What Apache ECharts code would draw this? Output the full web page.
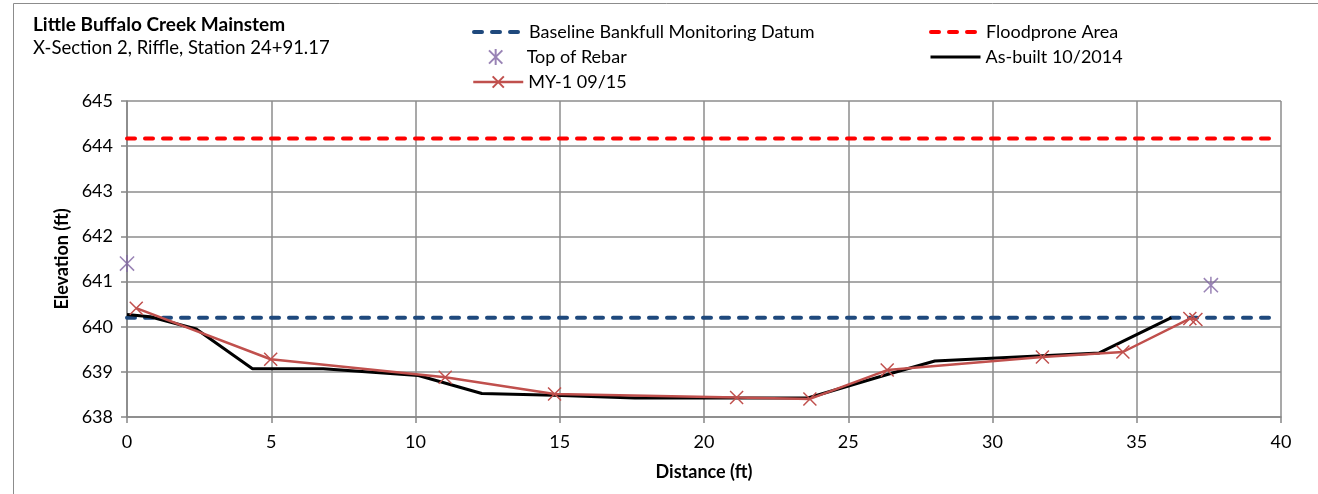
<!DOCTYPE html>
<html>
<head>
<meta charset="utf-8">
<script src="https://cdn.jsdelivr.net/npm/echarts@6/dist/echarts.min.js"></script>
<style>
  html, body { margin: 0; padding: 0; background: #fff; }
  #chart { width: 1318px; height: 494px; }
</style>
</head>
<body>
<div id="chart"></div>
<script>
// Cross-section survey, Little Buffalo Creek, X-Section 2
const xTicks = { min: 0, max: 40, interval: 5 };
const yTicks = { min: 638, max: 645, interval: 1 };

// Reference elevations (ft), drawn across the section
const datumSpan = [0, 39.7];
const bankfullElev = 640.2;
const floodproneElev = 644.17;

// Top of rebar pins
const rebarDist = [0, 37.57];
const rebarElev = [641.4, 640.92];

// As-built survey 10/2014
const asBuiltDist = [0, 0.8, 2.4, 4.35, 6.8, 10.1, 11.2, 12.3, 14.8, 17.6, 21.0, 23.6, 26.5, 28.0, 33.7, 36.2];
const asBuiltElev = [640.27, 640.22, 639.95, 639.07, 639.07, 638.92, 638.72, 638.52, 638.48, 638.42, 638.42, 638.42, 638.97, 639.24, 639.42, 640.2];

// Monitoring year 1 survey 09/15
const my1Dist = [0.32, 4.98, 11.03, 14.82, 21.13, 23.67, 26.35, 31.73, 34.52, 36.84, 37.05];
const my1Elev = [640.41, 639.28, 638.88, 638.51, 638.43, 638.4, 639.04, 639.33, 639.44, 640.18, 640.16];

const pair = (xs, ys) => xs.map((x, i) => [x, ys[i]]);
const flat = (span, y) => span.map(x => [x, y]);

const FONT = 'Lato';
const FS = 18;
const crossSym = 'path://M0,0L10,10M10,0L0,10';
const starSym = 'path://M0,0L10,10M10,0L0,10M5,-1L5,11';

const DASH = [8, 10];
const bankfullLine = { color: '#1F497D', width: 4, type: DASH, cap: 'round' };
const floodLine = { color: '#FF0000', width: 4, type: DASH, cap: 'round' };
const asBuiltLine = { color: '#000', width: 3 };
const my1Line = { color: '#C0504D', width: 2.5 };

const chart = echarts.init(document.getElementById('chart'), null, { renderer: 'canvas' });

const legendBase = {
  orient: 'horizontal',
  itemWidth: 50,
  itemHeight: 14,
  textStyle: { fontFamily: FONT, fontSize: FS, color: '#000' },
  selectedMode: false,
  padding: 0
};
// line-only legend entries: hide the default marker dot
const lineOnly = (name, ls) => ({
  name,
  itemStyle: { color: 'rgba(0,0,0,0)', borderWidth: 0, opacity: 0 },
  lineStyle: ls
});

chart.setOption({
  animation: false,
  backgroundColor: '#fff',
  graphic: [{
    type: 'rect',
    shape: { x: 13.5, y: 3.5, width: 1320, height: 500 },
    style: { fill: 'none', stroke: '#8c8c8c', lineWidth: 1 },
    silent: true
  }],
  title: [
    { text: 'Little Buffalo Creek Mainstem', left: 33, top: 15,
      textStyle: { fontFamily: FONT, fontSize: 19, fontWeight: 'bold', color: '#000' }, padding: 0 },
    { text: 'X-Section 2, Riffle, Station 24+91.17', left: 33, top: 39,
      textStyle: { fontFamily: FONT, fontSize: 18.5, fontWeight: 'normal', color: '#000' }, padding: 0 }
  ],
  legend: [
    Object.assign({}, legendBase, { left: 472, top: 23, data: [lineOnly('Baseline Bankfull Monitoring Datum', bankfullLine)] }),
    Object.assign({}, legendBase, { left: 929, top: 23, data: [lineOnly('Floodprone Area', floodLine)] }),
    Object.assign({}, legendBase, {
      left: 488, top: 48, itemWidth: 16, itemHeight: 16, data: ['Top of Rebar'],
      textStyle: { fontFamily: FONT, fontSize: FS, color: '#000', padding: [0, 0, 0, 18] }
    }),
    Object.assign({}, legendBase, { left: 929, top: 48, data: [lineOnly('As-built 10/2014', asBuiltLine)] }),
    Object.assign({}, legendBase, { left: 472, top: 73, data: [{ name: 'MY-1 09/15', lineStyle: my1Line }] })
  ],
  grid: { left: 127, right: 37, top: 101, bottom: 77, containLabel: false },
  xAxis: {
    type: 'value',
    min: xTicks.min, max: xTicks.max, interval: xTicks.interval,
    name: 'Distance (ft)', nameLocation: 'middle', nameGap: 46,
    nameTextStyle: { fontFamily: FONT, fontSize: FS, fontWeight: 'bold', color: '#000' },
    axisLine: { show: true, lineStyle: { color: '#868686', width: 1.5 } },
    axisTick: { show: true, length: 6, lineStyle: { color: '#868686', width: 1.5 } },
    axisLabel: { fontFamily: FONT, fontSize: FS, color: '#000', margin: 16 },
    splitLine: { show: true, lineStyle: { color: '#8c8c8c', width: 1.5 } }
  },
  yAxis: {
    type: 'value',
    min: yTicks.min, max: yTicks.max, interval: yTicks.interval,
    name: 'Elevation (ft)', nameLocation: 'middle', nameGap: 55, nameRotate: 90,
    nameTextStyle: { fontFamily: FONT, fontSize: FS, fontWeight: 'bold', color: '#000' },
    axisLine: { show: true, lineStyle: { color: '#868686', width: 1.5 } },
    axisTick: { show: true, length: 6, lineStyle: { color: '#868686', width: 1.5 } },
    axisLabel: { fontFamily: FONT, fontSize: FS, color: '#000', margin: 14 },
    splitLine: { show: true, lineStyle: { color: '#8c8c8c', width: 1.5 } }
  },
  series: [
    {
      name: 'Baseline Bankfull Monitoring Datum', type: 'line',
      data: flat(datumSpan, bankfullElev), symbol: 'none',
      color: '#1F497D', lineStyle: bankfullLine
    },
    {
      name: 'Floodprone Area', type: 'line',
      data: flat(datumSpan, floodproneElev), symbol: 'none',
      color: '#FF0000', lineStyle: floodLine
    },
    {
      name: 'Top of Rebar', type: 'scatter',
      data: pair(rebarDist, rebarElev),
      symbol: starSym, symbolSize: 17, symbolKeepAspect: true,
      color: '#8064A2',
      itemStyle: { color: 'rgba(0,0,0,0)', borderColor: '#8064A2', borderWidth: 1.5 }
    },
    {
      name: 'As-built 10/2014', type: 'line',
      data: pair(asBuiltDist, asBuiltElev), symbol: 'none',
      color: '#000', lineStyle: asBuiltLine
    },
    {
      name: 'MY-1 09/15', type: 'line',
      data: pair(my1Dist, my1Elev),
      symbol: crossSym, symbolSize: 13, symbolKeepAspect: true, showAllSymbol: true,
      color: '#C0504D', lineStyle: my1Line,
      itemStyle: { color: 'rgba(0,0,0,0)', borderColor: '#C0504D', borderWidth: 1.5 }
    }
  ]
});
</script>
</body>
</html>
